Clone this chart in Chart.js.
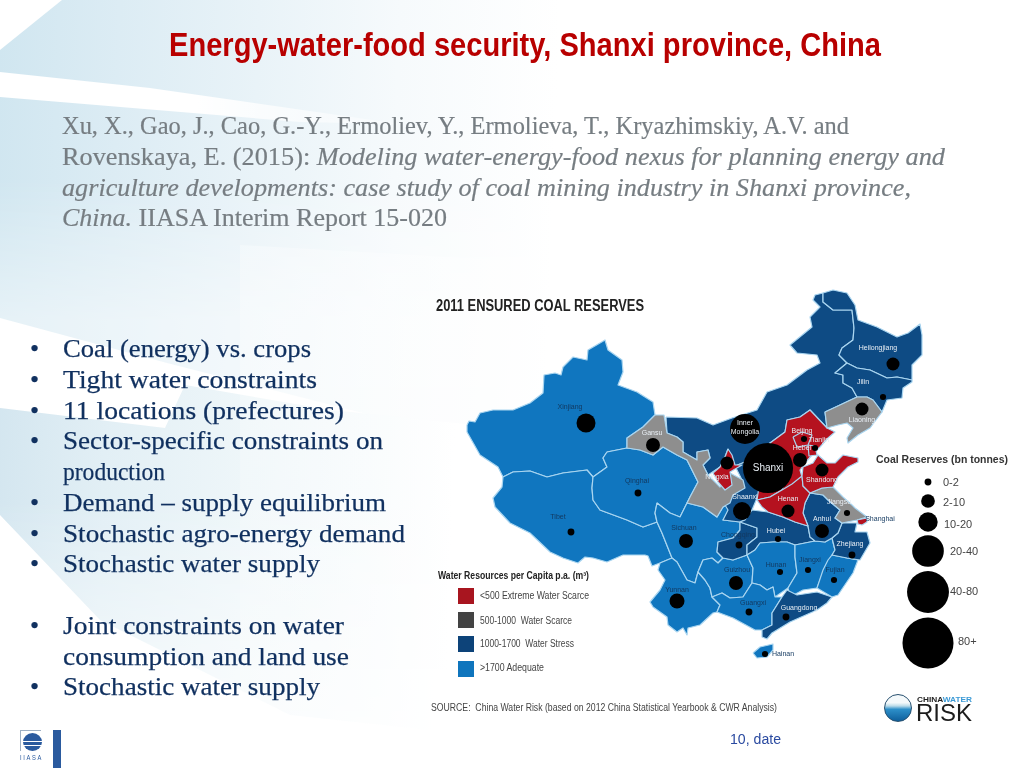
<!DOCTYPE html>
<html>
<head>
<meta charset="utf-8">
<title>Energy-water-food security, Shanxi province, China</title>
<script src="https://cdn.jsdelivr.net/npm/chart.js@4/dist/chart.umd.min.js"></script>
<style>
html,body{margin:0;padding:0;background:#fff;}
#slide{position:relative;width:1024px;height:768px;overflow:hidden;background:#fff;}
.bg{position:absolute;left:0;top:0;width:1024px;height:768px;}
#bgTop{background:linear-gradient(92deg,#d0e6f0 0,#dcecf4 120px,#e9f3f8 260px,#f6fafc 400px,#fff 560px);
     clip-path:polygon(0 50px,62px 0,1024px 0,1024px 450px,430px 430px,167px 363px,0 318px);
     -webkit-mask-image:linear-gradient(180deg,#000 0,#000 180px,rgba(0,0,0,.55) 320px);}
#bgLow{background:linear-gradient(92deg,#d2e5ef 0,#e2eff5 120px,#eef6f9 260px,#f9fcfd 400px,#fff 470px);
     clip-path:polygon(0 408px,165px 428px,185px 385px,330px 410px,1024px 480px,430px 730px,290px 715px,100px 620px,0 515px);
     -webkit-mask-image:linear-gradient(180deg,#000 0,#000 500px,rgba(0,0,0,.35) 720px);}
#bgBand{background:linear-gradient(92deg,#fff 0,#fff 200px,rgba(255,255,255,.3) 400px);clip-path:polygon(0 72px,150px 88px,400px 124px,300px 122px,0 97px);}
#bgRect{background:linear-gradient(180deg,rgba(255,255,255,.4),rgba(255,255,255,.1));clip-path:polygon(240px 245px,1024px 290px,1024px 768px,240px 768px);}
canvas{position:absolute;left:0;top:0;}
.t{position:absolute;white-space:pre;transform-origin:0 50%;line-height:1;}
.cite{font:26px "Liberation Serif",serif;color:#767d82;-webkit-text-stroke:.2px #767d82;}
.bul{font:26px "Liberation Serif",serif;color:#10305f;-webkit-text-stroke:.25px #10305f;}
.map{font-family:"Liberation Sans",sans-serif;color:#444;}
.lab{position:absolute;font:7px "Liberation Sans",sans-serif;white-space:pre;transform:translate(-50%,-50%);line-height:1;}
#bar{position:absolute;left:53px;top:730px;width:8px;height:38px;background:#2a5a9e;}
#iiasaBox{position:absolute;left:20px;top:730px;width:20px;height:20px;border-left:1px solid #9fb0c4;border-top:1px solid #9fb0c4;}
#iiasaGlobe{position:absolute;left:23px;top:733px;width:19px;height:18px;border-radius:50%;
  background:linear-gradient(180deg,#2a5a9e 0 42%,#fff 42% 50%,#2a5a9e 50% 66%,#fff 66% 72%,#2a5a9e 72%);}
#cwrGlobe{position:absolute;left:884px;top:694px;width:28px;height:28px;border-radius:50%;border:1px solid #27506f;box-sizing:border-box;
  background:linear-gradient(180deg,#f4f9fb 0 30%,#bcdcea 42%,#2d8fc9 55%,#0e5f9c 100%);}
</style>
</head>
<body>
<div id="slide">
  <div class="bg" id="bgTop"></div>
  <div class="bg" id="bgLow"></div>
  <div class="bg" id="bgBand"></div>
  <div class="bg" id="bgRect"></div>
  <canvas id="mapa" width="1024" height="768"></canvas>

  <div class="t" data-x="169" data-y="45" data-w="712" style="font:bold 33px 'Liberation Sans',sans-serif;color:#b80000">Energy-water-food security, Shanxi province, China</div>

  <div class="t cite" data-x="62" data-y="126" data-w="787">Xu, X., Gao, J., Cao, G.-Y., Ermoliev, Y., Ermolieva, T., Kryazhimskiy, A.V. and</div>
  <div class="t cite" data-x="62" data-y="157" data-w="883">Rovenskaya, E. (2015): <i>Modeling water-energy-food nexus for planning energy and</i></div>
  <div class="t cite" data-x="62" data-y="188" data-w="849"><i>agriculture developments: case study of coal mining industry in Shanxi province,</i></div>
  <div class="t cite" data-x="62" data-y="218" data-w="385"><i>China.</i> IIASA Interim Report 15-020</div>

  <div class="t map" data-x="436" data-y="306" data-w="208" style="font-size:16px;font-weight:bold;color:#222">2011 ENSURED COAL RESERVES</div>
  <div class="t map" data-x="876" data-y="459" data-w="132" style="font-size:11px;font-weight:bold;color:#333">Coal Reserves (bn tonnes)</div>
  <div class="t map" data-x="438" data-y="576" data-w="151" style="font-size:10px;font-weight:bold;color:#222">Water Resources per Capita p.a. (m³)</div>
  <div class="t map" data-x="431" data-y="708" data-w="346" style="font-size:10px">SOURCE:  China Water Risk (based on 2012 China Statistical Yearbook &amp; CWR Analysis)</div>
  <div class="t" data-x="730" data-y="739" data-w="51" style="font:14px 'Liberation Sans',sans-serif;color:#2a4aa0">10, date</div>

  <div id="bar"></div>
  <div id="iiasaBox"></div>
  <div id="iiasaGlobe"></div>
  <div class="t" data-x="20" data-y="757" data-w="23" style="font:7px 'Liberation Sans',sans-serif;letter-spacing:2px;color:#2a5a9e">IIASA</div>

  <div id="cwrGlobe"></div>
  <div class="t" data-x="917" data-y="699" data-w="55" style="font:bold 7px 'Liberation Sans',sans-serif;color:#222">CHINA<span style="color:#3c9ad6">WATER</span></div>
  <div class="t" data-x="916" data-y="713" data-w="56" style="font:24px 'Liberation Sans',sans-serif;color:#1c1c1c">RISK</div>
</div>

<script>
// ---- water classes ----
const classNames = ['<500 Extreme Water Scarce','500-1000  Water Scarce','1000-1700  Water Stress','>1700 Adequate'];
const classKeyColors = ['#a8151f','#434343','#0d4379','#0f75bd'];
const classMapColors = {red:'#b5121f',gray:'#8e8e8e',stress:'#0e4b84',ok:'#1076bf'};

// ---- province outlines ----
const xinjiang = [[467,425],[469,421],[475,422],[480,413],[493,410],[513,410],[530,403],[543,393],[544,375],[555,373],[561,375],[563,367],[573,357],[587,360],[588,350],[600,343],[605,340],[608,350],[622,360],[623,372],[618,385],[637,392],[653,402],[655,415],[643,427],[627,438],[627,448],[607,452],[603,458],[607,467],[593,477],[587,470],[563,473],[547,477],[530,471],[513,472],[503,477],[498,467],[480,455],[467,432]];
const tibet = [[503,477],[513,472],[530,471],[547,477],[563,473],[587,470],[593,477],[592,488],[593,500],[600,510],[627,520],[643,527],[657,522],[662,533],[672,558],[660,563],[652,566],[648,556],[645,555],[623,555],[607,562],[593,558],[585,557],[578,563],[563,558],[550,552],[530,533],[510,523],[495,507],[493,498],[502,487]];
const qinghai = [[607,452],[627,448],[640,450],[653,455],[663,447],[677,455],[687,460],[698,482],[690,497],[687,503],[680,517],[670,513],[657,503],[655,513],[657,522],[643,527],[627,520],[600,510],[593,500],[592,488],[593,477],[607,467],[603,458]];
const sichuan = [[657,503],[670,513],[680,517],[687,503],[703,507],[717,517],[723,507],[730,503],[728,512],[723,520],[740,522],[740,530],[733,538],[718,542],[717,552],[723,558],[718,563],[712,558],[703,560],[698,572],[695,583],[687,580],[677,562],[672,558],[662,533],[657,522],[655,513]];
const yunnan = [[672,558],[677,562],[687,580],[695,583],[698,572],[705,580],[710,588],[712,597],[720,605],[717,612],[713,613],[700,625],[688,628],[687,635],[683,628],[677,632],[668,625],[667,617],[653,607],[650,602],[660,590],[665,580],[658,570],[660,563]];
const guizhou = [[712,558],[718,563],[723,558],[733,560],[747,555],[753,568],[752,583],[743,597],[730,598],[722,593],[712,597],[710,588],[705,580],[698,572],[703,560]];
const chongqing = [[740,522],[757,528],[757,537],[747,545],[747,555],[733,560],[723,558],[717,552],[718,542],[733,538],[740,530]];
const innerMongolia = [[666,417],[697,418],[713,425],[732,418],[757,410],[767,392],[787,385],[807,370],[820,363],[817,355],[797,353],[790,345],[812,327],[810,317],[820,307],[813,300],[815,295],[823,293],[823,302],[833,310],[852,310],[854,328],[853,340],[842,348],[839,355],[847,363],[835,373],[843,375],[843,383],[852,388],[857,397],[840,405],[825,412],[827,428],[810,410],[800,417],[787,420],[785,432],[770,443],[745,462],[735,466],[728,449],[725,457],[720,467],[708,475],[703,465],[710,458],[708,450],[697,452],[697,460],[683,452],[683,442],[677,437],[667,433]];
const heilongjiang = [[823,293],[833,290],[847,293],[855,305],[858,320],[877,327],[897,337],[908,333],[920,324],[922,335],[922,355],[912,365],[912,380],[897,377],[887,378],[870,370],[857,368],[847,363],[839,355],[842,348],[853,340],[854,328],[852,310],[833,310],[823,302]];
const jilin = [[847,363],[857,368],[870,370],[887,378],[897,377],[912,380],[912,382],[903,388],[902,398],[887,400],[882,412],[873,400],[867,397],[857,397],[852,388],[843,383],[843,375],[835,373]];
const liaoning = [[825,412],[840,405],[857,397],[867,397],[873,400],[882,412],[870,428],[858,435],[848,443],[847,438],[853,428],[847,423],[838,425],[827,428]];
const gansu = [[655,415],[664,415],[667,433],[677,437],[683,442],[683,452],[697,460],[697,452],[708,450],[710,458],[703,465],[708,475],[720,487],[730,473],[743,480],[745,488],[733,495],[730,503],[723,507],[717,517],[703,507],[687,503],[690,497],[698,482],[687,460],[677,455],[663,447],[653,455],[640,450],[627,448],[627,438],[643,427]];
const ningxia = [[728,449],[732,455],[735,465],[742,465],[730,472],[732,485],[725,490],[718,482],[713,473],[720,467],[725,457]];
const shaanxi = [[735,466],[745,462],[758,470],[760,490],[757,498],[752,510],[755,512],[745,520],[740,522],[723,520],[728,510],[722,500],[730,490],[742,480]];
const shanxi = [[745,462],[770,443],[788,470],[782,490],[770,497],[757,500],[760,480]];
const hebei = [[770,443],[785,432],[787,420],[800,417],[810,410],[827,428],[835,432],[828,438],[820,447],[812,455],[806,462],[800,470],[802,477],[790,487],[782,490],[788,470]];
const beijing = [[793,437],[802,432],[812,435],[808,445],[797,447]];
const tianjin = [[808,445],[815,446],[817,455],[809,456]];
const henan = [[757,500],[770,497],[782,490],[792,484],[802,476],[803,486],[810,493],[805,503],[803,513],[808,526],[795,522],[783,517],[768,512],[762,507]];
const shandong = [[802,476],[803,467],[813,463],[818,455],[827,463],[835,463],[843,455],[858,458],[858,462],[848,467],[838,477],[833,487],[822,488],[810,493],[803,486]];
const hubei = [[752,510],[768,512],[783,517],[795,522],[808,526],[810,537],[815,541],[795,545],[787,542],[773,542],[760,543],[755,550],[747,555],[747,545],[757,537],[757,528],[740,522],[745,520]];
const anhui = [[810,493],[823,495],[828,500],[840,510],[835,518],[842,523],[838,533],[832,538],[825,542],[815,541],[810,537],[808,526],[803,513],[805,503]];
const jiangsu = [[810,493],[822,488],[833,487],[843,497],[852,505],[855,508],[867,517],[857,520],[842,523],[835,518],[840,510],[828,500],[823,495]];
const shanghai = [[857,520],[867,518],[867,522],[862,525],[858,524]];
const zhejiang = [[842,523],[857,523],[855,532],[867,532],[870,543],[860,560],[847,558],[832,555],[835,550],[832,538],[838,533]];
const fujian = [[832,555],[847,558],[858,560],[853,573],[838,595],[832,597],[817,588],[823,570],[828,560]];
const jiangxi = [[795,545],[815,541],[825,542],[832,538],[835,550],[832,555],[825,567],[817,588],[803,590],[790,597],[788,588],[797,573],[795,557]];
const hunan = [[760,543],[773,542],[787,542],[795,545],[795,557],[797,573],[788,588],[775,597],[773,587],[767,590],[760,585],[752,583],[753,568],[747,555],[755,550]];
const guangxi = [[712,597],[722,593],[730,598],[743,597],[752,583],[760,585],[767,590],[773,587],[775,597],[782,597],[772,613],[772,625],[762,630],[755,630],[733,618],[717,612],[720,605]];
const guangdong = [[782,597],[787,590],[797,595],[817,592],[832,597],[827,603],[817,610],[790,622],[772,633],[767,639],[762,637],[762,630],[772,625],[772,613]];
const hainan = [[753,653],[760,647],[773,644],[773,650],[767,657],[757,658]];

// later entries paint over earlier ones
const provinceShapes = [xinjiang,tibet,qinghai,sichuan,yunnan,guizhou,chongqing,innerMongolia,heilongjiang,jilin,shaanxi,hubei,hunan,jiangxi,fujian,zhejiang,anhui,jiangsu,guangxi,guangdong,hainan,shanxi,hebei,beijing,tianjin,henan,shandong,gansu,ningxia,liaoning,shanghai];
const provinceClass  = ['ok','ok','ok','ok','ok','ok','stress','stress','stress','stress','stress','stress','ok','ok','ok','stress','stress','gray','ok','stress','ok','red','red','red','red','red','red','gray','red','gray','red'];

// ---- coal reserves, bn tonnes ----
const coalNames  = ['Xinjiang','Gansu','Qinghai','Tibet','Sichuan','Yunnan','Inner Mongolia','Shanxi','Ningxia','Heilongjiang','Jilin','Liaoning','Beijing','Tianjin','Hebei','Shandong','Shaanxi','Henan','Anhui','Hubei','Chongqing','Jiangsu','Zhejiang','Hunan','Jiangxi','Fujian','Guizhou','Guangxi','Guangdong','Hainan'];
const coalX      = [586,653,638,571,686,677,745,768,727,893,883,862,804,815,800,822,742,788,822,778,739,847,852,780,808,834,736,749,786,765];
const coalY      = [423,445,493,532,541,601,429,468,463,364,397,409,439,448,460,470,511,511,531,539,545,513,555,572,570,580,583,612,617,654];
const coalTonnes = [11.5,6.2,1.5,1.5,6.2,7.2,28.7,80,5.4,5.4,1.2,5.4,1.2,1.2,6.2,5.4,10.3,5.4,6.2,1.2,1.5,1.2,1.5,1.2,1.2,1.2,6.2,1.5,1.5,1.2];

// ---- coal legend ----
const coalBandNames  = ['0-2','2-10','10-20','20-40','40-80','80+'];
const coalBandTonnes = [1.5,6,12,32,56,83];
const coalBandX = [928,928,928,928,928,928];
const coalBandY = [482,501,522,551,592,643];
const coalBandLabelX = [943,943,944,950,950,958];
const coalBandLabelY = [482,502,524,551,591,641];

// ---- water legend ----
const classKeyX = [466,466,466,466];
const classKeyY = [596,620,644,669];
const classLabelX = [480,480,480,480];
const classLabelY = [596,621,644,668];
const classLabelW = [109,92,94,64];

// ---- province names on the map ----
const labelNames = ['Xinjiang','Gansu','Qinghai','Tibet','Sichuan','Yunnan','Inner','Mongolia','Shanxi','Ningxia','Heilongjiang','Jilin','Liaoning','Beijing','Tianjin','Hebei','Shandong','Henan','Shaanxi','Jiangsu','Anhui','Shanghai','Hubei','Chongqing','Zhejiang','Hunan','Jiangxi','Fujian','Guizhou','Guangxi','Guangdong','Hainan'];
const labelX = [570,652,637,558,684,677,745,745,768,717,878,863,862,802,819,802,822,788,745,839,822,880,776,738,850,776,810,835,737,753,799,783];
const labelY = [406,432,480,516,527,589,422,431,468,476,347,381,419,430,439,447,479,498,496,501,518,518,530,534,543,564,559,569,569,602,607,653];
const labelDark = ['Xinjiang','Qinghai','Tibet','Sichuan','Yunnan','Chongqing','Hunan','Jiangxi','Fujian','Guizhou','Guangxi','Hainan','Shanghai'];

// ---- slide bullets ----
const bulletText = ['Coal (energy) vs. crops','Tight water constraints','11 locations (prefectures)','Sector-specific constraints on','production','Demand – supply equilibrium','Stochastic agro-energy demand','Stochastic water supply','Joint constraints on water','consumption and land use','Stochastic water supply'];
const bulletY    = [349,380,411,441,472,503,534,564,626,657,687];
const bulletEnd  = [311,317,344,383,165,386,405,320,344,349,320];
const bulletMark = [1,1,1,1,0,1,1,1,1,0,1];

const slide = document.getElementById('slide');

var add_text = function(txt,cls,x,y,w,style){
   let d = document.createElement('div');
   d.className = 't '+cls;
   d.textContent = txt;
   d.dataset.x = x; d.dataset.y = y;
   if(w) d.dataset.w = w;
   if(style) d.style.cssText = style;
   slide.appendChild(d);
};

bulletText.forEach((txt,i)=>{
   add_text(txt,'bul',63,bulletY[i],bulletEnd[i]-63);
   if(bulletMark[i]) add_text('•','bul',30,bulletY[i]);
});
classNames.forEach((txt,i)=>add_text(txt,'map',classLabelX[i],classLabelY[i],classLabelW[i],'font-size:10px'));
coalBandNames.forEach((txt,i)=>add_text(txt,'map',coalBandLabelX[i],coalBandLabelY[i],0,'font-size:11px'));

// paints the area of a closed line dataset before its border is stroked
const polygonFill = {
   id:'polygonFill',
   beforeDatasetDraw(chart,args){
      let ds = chart.data.datasets[args.index];
      if(!ds.polygonColor) return;
      let pts = args.meta.data, ctx = chart.ctx;
      ctx.save();
      ctx.beginPath();
      pts.forEach((p,i)=> i ? ctx.lineTo(p.x,p.y) : ctx.moveTo(p.x,p.y));
      ctx.closePath();
      ctx.fillStyle = ds.polygonColor;
      ctx.fill();
      ctx.restore();
   }
};

const radiusOf = t => 2.8*Math.sqrt(t);

let conjuntos = [];
conjuntos.push({
   type:'bubble',
   data:coalNames.map((n,i)=>({x:coalX[i],y:coalY[i],r:radiusOf(coalTonnes[i])}))
        .concat(coalBandNames.map((n,i)=>({x:coalBandX[i],y:coalBandY[i],r:radiusOf(coalBandTonnes[i])}))),
   backgroundColor:'#000',borderWidth:0,clip:false
});
conjuntos.push({
   type:'scatter',
   data:classKeyX.map((x,i)=>({x:x,y:classKeyY[i]})),
   pointStyle:'rect',pointRadius:11.3,pointBorderWidth:0,
   pointBackgroundColor:classKeyColors
});
// chart.js paints the first dataset on top, so the shapes go in reversed
for(let i=provinceShapes.length-1;i>=0;i--){
   let shape = provinceShapes[i];
   conjuntos.push({
      type:'scatter',showLine:true,pointRadius:0,
      data:shape.concat([shape[0]]).map(p=>({x:p[0],y:p[1]})),
      polygonColor:classMapColors[provinceClass[i]],
      borderColor:'#a9d5f0',borderWidth:1.2,borderJoinStyle:'round',fill:false
   });
}

const chart = new Chart(document.getElementById('mapa').getContext('2d'),{
   data:{datasets:conjuntos},
   plugins:[polygonFill],
   options:{
      responsive:false,animation:false,devicePixelRatio:1,
      layout:{padding:0,autoPadding:false},
      plugins:{legend:{display:false},tooltip:{enabled:false}},
      scales:{
         x:{type:'linear',min:0,max:1024,display:false},
         y:{type:'linear',min:0,max:768,reverse:true,display:false}
      }
   }
});

// names sit on the chart's own scales
labelNames.forEach((n,i)=>{
   let d = document.createElement('div');
   d.className = 'lab';
   d.textContent = n;
   d.style.left = chart.scales.x.getPixelForValue(labelX[i])+'px';
   d.style.top = chart.scales.y.getPixelForValue(labelY[i])+'px';
   d.style.color = labelDark.indexOf(n)>=0 ? '#12385f' : '#e8eef4';
   if(n==='Shanxi') d.style.fontSize = '10px';
   slide.appendChild(d);
});

// place the text lines, squeezing each one to the width seen in the picture
document.querySelectorAll('.t').forEach(el=>{
   el.style.left = el.dataset.x+'px';
   el.style.top = el.dataset.y+'px';
   let k = 1;
   if(el.dataset.w) k = el.dataset.w/el.getBoundingClientRect().width;
   el.style.transform = 'translateY(-50%) scaleX('+k+')';
});
</script>
</body>
</html>
